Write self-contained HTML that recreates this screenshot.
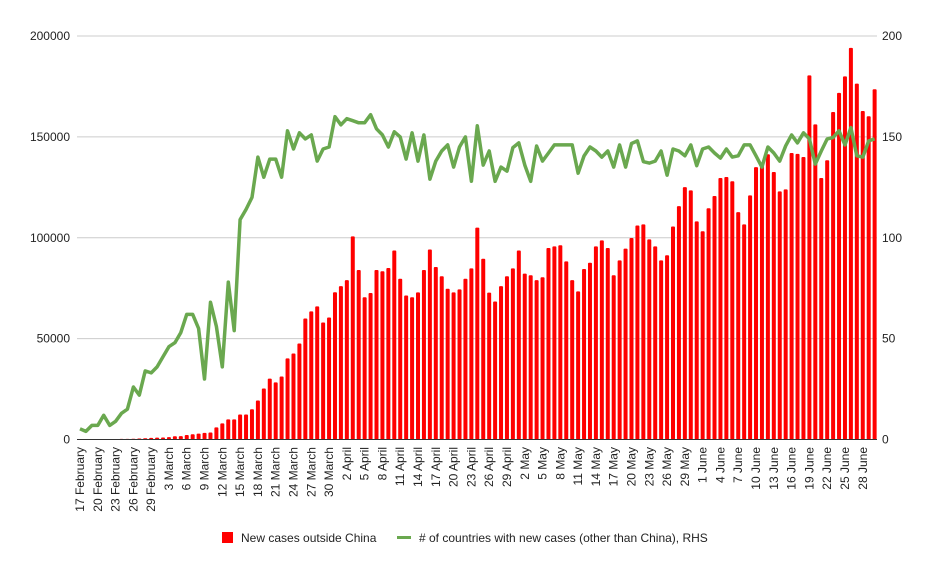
<!DOCTYPE html>
<html><head><meta charset="utf-8"><style>
body{margin:0;background:#fff;font-family:"Liberation Sans",Arial,sans-serif}
svg text{font-family:"Liberation Sans",Arial,sans-serif;font-size:12px;fill:#222}
</style></head><body>
<svg id="chart" width="932" height="574" xmlns="http://www.w3.org/2000/svg">
<g id="grid"></g><g id="bars"></g><g id="line"></g><g id="axes"></g>
<g>
<rect x="222" y="532" width="11" height="11" fill="#ff0000"/>
<text x="241" y="542">New cases outside China</text>
<line x1="397" y1="537.5" x2="411" y2="537.5" stroke="#6aa84f" stroke-width="3"/>
<text x="419" y="542"># of countries with new cases (other than China), RHS</text>
</g>
</svg>
<script>
const startDate = [2020,1,17];
const cases = [0,0,0,0,0,0,200,300,300,400,500,600,800,900,1000,1200,1600,1700,2200,2600,2900,3300,3500,
6000,8000,10000,10000,12400,12400,15000,19300,25300,30200,28300,31200,40200,42600,47600,60000,63500,66000,58000,60500,73000,76000,79000,
100700,84000,70500,72600,84000,83400,85000,93700,79700,71400,70500,72900,84000,94200,85500,80900,74700,72900,74400,79700,84800,105000,89600,72800,68400,76000,80900,84800,93700,82200,81400,79000,80400,94900,95700,96300,88300,79000,73400,84500,87600,95700,98700,94900,
81400,88800,94600,99900,106100,106600,99200,95700,88800,91300,105600,115700,125100,123500,108100,103200,114600,120700,129600,130100,128000,112700,106600,121000,135000,135900,141400,132600,123000,124000,142000,141600,140000,180500,156200,129600,138400,162300,171800,180000,194100,176400,162800,160200,173600];
const countries = [5.3,4,7,7,12,7,9,13,15,26,22,34,33,36,41,46,48,53,62,62,55,30,68,56,36,78,54,109,114,120,140,130,139,139,130,153,144,152,149,151,138,144,145,160,156,159,
158,157,157,161,154,151,145,152.5,150,139,152,138,151,129,138,143,146,135,145,150,128,155.5,136,143,128,135,133,144.7,147,136,128,145.5,138,142,146,146,146,146,132,140.5,145,143,140,143,
135,146,135,146.7,148,137.7,137,138,143,131,144,143,140.6,146,135.7,144,145,142,139.5,144,140,140.6,146,146,140.6,135,145,142,138,145.6,151,147,152,149,136.5,143,149,149.7,153,146,154.6,140.6,140,148,149];
const leftTicks = [0,50000,100000,150000,200000];
const rightTicks = [0,50,100,150,200];
const months = ["January","February","March","April","May","June","July"];
const NS="http://www.w3.org/2000/svg";
const X0=80, STEP=5.93, Y0=439.5, H=403.5;
const x = i => X0 + STEP*i;
const yL = v => Y0 - v/200000*H;
const yR = v => Y0 - v/200*H;
function mk(tag, attrs, parent){const e=document.createElementNS(NS,tag);for(const k in attrs)e.setAttribute(k,attrs[k]);parent.appendChild(e);return e;}
const grid=document.getElementById('grid'), axes=document.getElementById('axes');
leftTicks.forEach((t,k)=>{
  if(t>0){const g=mk('line',{x1:77,x2:877,y1:yL(t),y2:yL(t),stroke:'#cccccc','stroke-width':1},grid);
  
  }
  const l=mk('text',{x:70,y:yL(t)+4,'text-anchor':'end'},axes);l.textContent=t;
  
  
  const r=mk('text',{x:882,y:yR(rightTicks[k])+4},axes);r.textContent=rightTicks[k];
  
  
});
const bars=document.getElementById('bars');
cases.forEach((v,i)=>{
  if(v<=0)return;
  const b=mk('rect',{x:x(i)-2,y:yL(v),width:4,height:Y0-yL(v),fill:'#ff0000',rx:1},bars);
  
  
});
const base=mk('line',{x1:77,x2:877,y1:Y0,y2:Y0,stroke:'#333','stroke-width':1},axes);


const pts=countries.map((v,i)=>x(i).toFixed(1)+','+yR(v).toFixed(1)).join(' ');
const pl=mk('polyline',{points:pts,fill:'none',stroke:'#6aa84f','stroke-width':3.5,'stroke-linejoin':'round'},document.getElementById('line'));


for(let i=0;i<cases.length;i+=3){
  const d=new Date(startDate[0],startDate[1],startDate[2]+i);
  const lab=d.getDate()+' '+months[d.getMonth()];
  const tx=x(i)+4, ty=447;
  const t=mk('text',{x:tx,y:ty,'text-anchor':'end',transform:`rotate(-90 ${tx} ${ty})`},axes);
  t.textContent=lab;
  
  
}
</script>
</body></html>
